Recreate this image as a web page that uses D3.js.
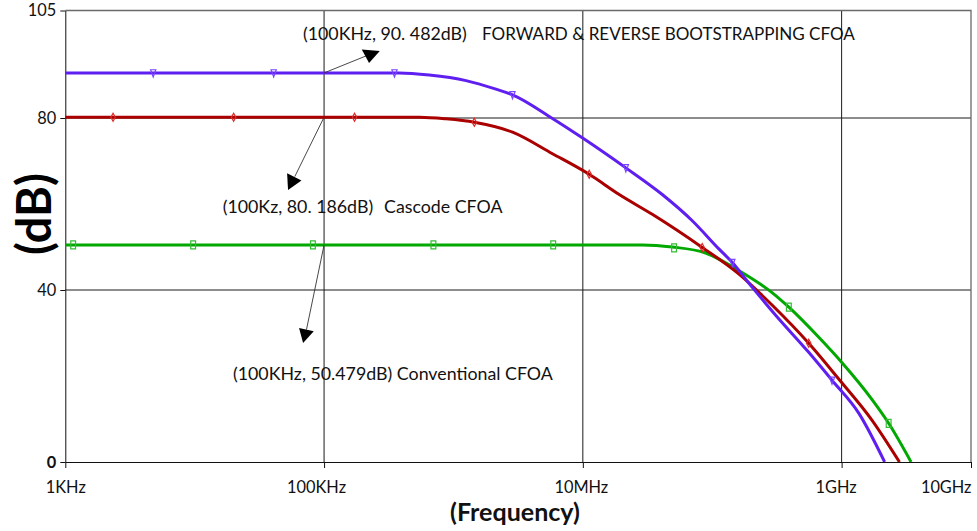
<!DOCTYPE html>
<html>
<head>
<meta charset="utf-8">
<script src="https://cdn.jsdelivr.net/npm/d3@7"></script>
<style>
  html, body { margin: 0; padding: 0; background: #fff; }
  svg { display: block; }
</style>
</head>
<body>
<svg id="chart" width="977" height="531"></svg>
<script>
// ---- axis ticks ----
const freqTicks = [1e3, 1e5, 1e7, 1e9, 1e10];
const freqTickLabels = ["1KHz", "100KHz", "10MHz", "1GHz", "10GHz"];
const dbTicks = [0, 40, 80, 105];

// ---- forward & reverse bootstrapping CFOA (Hz, dB) ----
const bootFreq = [1e3, 3.8e5, 6.5e5, 1.25e6, 2.13e6, 2.86e6, 5.82e6, 9.9e6, 2.15e7, 4.11e7, 7.01e7, 1.13e8, 1.43e8, 2.04e8, 3.08e8, 5.57e8, 8.43e8, 1.36e9, 2.15e9];
const bootDb   = [90.482, 90.482, 90.0, 88.7, 86.7, 85.4, 79.9, 75.4, 68.4, 62.2, 56.1, 49.5, 46.4, 40.6, 34.2, 25.5, 19.0, 11.3, 0];
const bootMarkFreq = [4.78e3, 4.08e4, 3.5e5, 2.86e6, 2.15e7, 1.43e8, 8.43e8];
const bootMarkDb   = [90.482, 90.482, 90.482, 85.4, 68.4, 46.4, 19.0];

// ---- cascode CFOA ----
const cascFreq = [1e3, 5.46e5, 8.77e5, 1.45e6, 2.86e6, 5.82e6, 1.12e7, 1.91e7, 3.44e7, 8.37e7, 1.61e8, 2.9e8, 5.57e8, 9.5e8, 1.72e9, 2.8e9];
const cascDb   = [80.186, 80.186, 79.8, 79.0, 76.7, 71.7, 66.9, 62.2, 57.6, 49.9, 43.7, 36.5, 27.6, 19.3, 9.7, 0];
const cascMarkFreq = [2.34e3, 2.0e4, 1.72e5, 1.45e6, 1.12e7, 8.37e7, 5.57e8];
const cascMarkDb   = [80.186, 80.186, 80.186, 79.0, 66.9, 49.9, 27.6];

// ---- conventional CFOA ----
const convFreq = [1e3, 2.88e7, 4.91e7, 8.89e7, 1.61e8, 2.9e8, 3.91e8, 6.66e8, 1.0e9, 1.72e9, 2.31e9, 3.44e9];
const convDb   = [50.479, 50.479, 50.0, 48.6, 44.5, 39.4, 36.0, 29.0, 23.2, 14.5, 9.0, 0];
const convMarkFreq = [1.15e3, 9.73e3, 8.2e4, 7.0e5, 5.9e6, 5.07e7, 3.91e8, 2.31e9];
const convMarkDb   = [50.479, 50.479, 50.479, 50.479, 50.479, 49.8, 36.0, 9.0];

// ---- point annotations at 100 kHz ----
const noteFreq = [1e5, 1e5, 1e5];
const noteDb = [90.482, 80.186, 50.479];
const noteTexts = [
  ["(100KHz, 90. 482dB)", "FORWARD & REVERSE BOOTSTRAPPING CFOA"],
  ["(100Kz, 80. 186dB)", "Cascode CFOA"],
  ["(100KHz, 50.479dB) Conventional CFOA"]
];

// ================= drawing =================
const FONT = "Lato, 'Open Sans', 'DejaVu Sans', sans-serif";
const svg = d3.select("#chart");
const plot = { left: 65.3, right: 971, top: 10.5, bottom: 462 };

const x = d3.scaleLog().domain([1e3, 1e10]).range([plot.left, plot.right]);
const y = d3.scaleLinear().domain([0, 105]).range([plot.bottom, plot.top]);

// font size that makes a string span a given width
function fitSize(text, weight, width) {
  const base = 20;
  const t = svg.append("text").attr("font-family", FONT)
    .attr("font-weight", weight).attr("font-size", base).text(text);
  const w = t.node().getComputedTextLength();
  t.remove();
  return base * width / w;
}

const tickFs = fitSize("100KHz", 400, 59);
const noteFs = fitSize(noteTexts[2][0], 400, 320);
const capsFs = Math.min(noteFs, fitSize(noteTexts[0][1], 400, 373));

// grid
const grid = svg.append("g").attr("stroke", "#1a1a1a").attr("stroke-width", 1);
grid.append("g").selectAll("line")
  .data(freqTicks.filter(d => d > 1e3 && d < 1e10))
  .join("line")
  .attr("x1", d => x(d)).attr("x2", d => x(d))
  .attr("y1", plot.top).attr("y2", plot.bottom);
grid.append("g").selectAll("line")
  .data(dbTicks.filter(d => d > 0 && d < 105))
  .join("line")
  .attr("x1", plot.left).attr("x2", plot.right)
  .attr("y1", d => y(d)).attr("y2", d => y(d));

// frame (top and right)
svg.append("path")
  .attr("d", `M${plot.left},${plot.top}H${plot.right}V${plot.bottom}`)
  .attr("fill", "none").attr("stroke", "#6a6a6a").attr("stroke-width", 1.3);

// x axis
const xAxis = svg.append("g")
  .attr("transform", `translate(0,${plot.bottom})`)
  .call(d3.axisBottom(x).tickValues(freqTicks)
    .tickFormat((d, i) => freqTickLabels[i])
    .tickSizeInner(6).tickSizeOuter(0));
xAxis.select(".domain").attr("stroke", "#111");
xAxis.selectAll(".tick line").attr("stroke", "#111");
const xLabelDx = [0, -8, -2, -6, 0];
xAxis.selectAll(".tick text")
  .attr("font-family", FONT).attr("font-size", tickFs).attr("fill", "#111")
  .attr("y", 31).attr("dy", 0)
  .attr("dx", (d, i) => xLabelDx[i])
  .attr("text-anchor", (d, i) => i === freqTicks.length - 1 ? "end" : "middle");

// y axis
const yAxis = svg.append("g")
  .attr("transform", `translate(${plot.left},0)`)
  .call(d3.axisLeft(y).tickValues(dbTicks).tickSizeInner(5).tickSizeOuter(0).tickPadding(4));
yAxis.select(".domain").attr("stroke", "#111");
yAxis.selectAll(".tick line").attr("stroke", "#111");
yAxis.selectAll(".tick text")
  .attr("font-family", FONT).attr("font-size", tickFs).attr("fill", "#111")
  .attr("font-weight", d => d === 0 ? 700 : 400);

// axis titles
svg.append("text")
  .attr("transform", "translate(33,214) rotate(-90)")
  .attr("text-anchor", "middle").attr("dominant-baseline", "central")
  .attr("font-family", FONT).attr("font-weight", 700)
  .attr("font-size", fitSize("(dB)", 700, 82))
  .attr("fill", "#000").text("(dB)");
svg.append("text")
  .attr("x", 515).attr("y", 521)
  .attr("text-anchor", "middle")
  .attr("font-family", FONT).attr("font-weight", 700)
  .attr("font-size", fitSize("(Frequency)", 700, 130))
  .attr("fill", "#111").text("(Frequency)");

// curves
const series = [
  { freq: convFreq, db: convDb, mf: convMarkFreq, md: convMarkDb },
  { freq: cascFreq, db: cascDb, mf: cascMarkFreq, md: cascMarkDb },
  { freq: bootFreq, db: bootDb, mf: bootMarkFreq, md: bootMarkDb }
];
const styles = [
  { line: "#00a800", mark: "#33bb33", shape: "M-2.4,-4H2.4V4H-2.4Z" },
  { line: "#aa0000", mark: "#dd2a2a", shape: "M0,-4L2.2,0L0,4L-2.2,0Z" },
  { line: "#5f1ff0", mark: "#7a45ff", shape: "M-2.6,-3.2H2.6L0,4Z" }
];

svg.append("clipPath").attr("id", "plotClip")
  .append("rect")
  .attr("x", plot.left).attr("y", plot.top)
  .attr("width", plot.right - plot.left).attr("height", plot.bottom - plot.top);

const lineGen = d3.line()
  .x(d => x(d[0])).y(d => y(d[1]))
  .curve(d3.curveMonotoneX);

const curves = svg.append("g").attr("clip-path", "url(#plotClip)");
series.forEach((s, k) => {
  const pts = s.freq.map((f, i) => [f, s.db[i]]);
  curves.append("path")
    .attr("d", lineGen(pts))
    .attr("fill", "none")
    .attr("stroke", styles[k].line)
    .attr("stroke-width", 3)
    .attr("stroke-linejoin", "round");
  curves.append("g").selectAll("path")
    .data(s.mf.map((f, i) => [f, s.md[i]]))
    .join("path")
    .attr("transform", d => `translate(${x(d[0])},${y(d[1])})`)
    .attr("d", styles[k].shape)
    .attr("fill", "none")
    .attr("stroke", styles[k].mark)
    .attr("stroke-width", 1.2);
});

// annotations: leader line + arrowhead offsets from the annotated point
const noteLayout = [
  { end: [42, -17], head: [[37.7, -23.4], [55.7, -22], [45, -10]],
    texts: [[303, 40], [482, 40]] },
  { end: [-29.3, 59.4], head: [[-37, 56], [-22.6, 63.4], [-36, 72.7]],
    texts: [[222.7, 213], [384, 213]] },
  { end: [-17.6, 84.7], head: [[-25, 83], [-10.3, 86.4], [-21, 98]],
    texts: [[233, 380]] }
];

const notes = svg.append("g");
noteFreq.forEach((f, k) => {
  const px = x(f), py = y(noteDb[k]);
  const L = noteLayout[k];
  notes.append("line")
    .attr("x1", px).attr("y1", py)
    .attr("x2", px + L.end[0]).attr("y2", py + L.end[1])
    .attr("stroke", "#333").attr("stroke-width", 0.9);
  notes.append("path")
    .attr("d", "M" + L.head.map(p => [px + p[0], py + p[1]].join(",")).join("L") + "Z")
    .attr("fill", "#000");
  noteTexts[k].forEach((t, j) => {
    const caps = (k === 0 && j === 1);
    notes.append("text")
      .attr("x", L.texts[j][0]).attr("y", L.texts[j][1])
      .attr("font-family", FONT).attr("font-size", caps ? capsFs : noteFs)
      .attr("fill", "#111").text(t);
  });
});
</script>
</body>
</html>
